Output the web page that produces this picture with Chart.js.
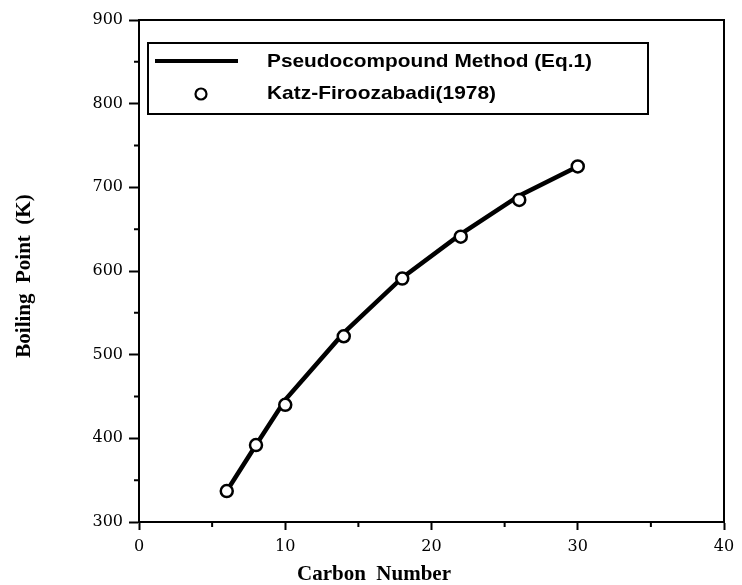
<!DOCTYPE html>
<html>
<head>
<meta charset="utf-8">
<script src="https://cdn.jsdelivr.net/npm/chart.js@4.4.0/dist/chart.umd.min.js"></script>
<style>
  body { margin: 0; background: #fff; }
  canvas { display: block; }
</style>
</head>
<body>
<canvas id="bpChart" width="742" height="585"></canvas>
<script>
// carbon numbers and boiling points (K)
const carbonNumbers = [6, 8, 10, 14, 18, 22, 26, 30];
const methodBp = [337, 392, 446, 526, 592, 644, 690, 725];
const katzBp = [337, 392, 440, 522, 591, 641, 685, 725];

const xMinorTicks = [5, 15, 25, 35];
const yMinorTicks = [350, 450, 550, 650, 750, 850];

const legendLabels = ['Pseudocompound Method (Eq.1)', 'Katz-Firoozabadi(1978)'];
const xTitle = 'Carbon  Number';
const yTitle = 'Boiling  Point  (K)';

// draw text squeezed/stretched to a given width
function fitText(ctx, text, x, y, width) {
    const w = ctx.measureText(text).width;
    ctx.save();
    ctx.translate(x, y);
    ctx.scale(width / w, 1);
    ctx.textAlign = 'left';
    ctx.fillText(text, 0, 0);
    ctx.restore();
}

const decorations = {
    id: 'decorations',
    afterDraw(chart) {
        const ctx = chart.ctx;
        const a = chart.chartArea;
        const xs = chart.scales.x;
        const ys = chart.scales.y;

        ctx.save();
        ctx.strokeStyle = '#000';
        ctx.fillStyle = '#000';

        // frame round the plot
        ctx.lineWidth = 2;
        ctx.strokeRect(a.left, a.top, a.right - a.left, a.bottom - a.top);

        // minor ticks
        ctx.beginPath();
        xMinorTicks.forEach(v => {
            const px = xs.getPixelForValue(v);
            ctx.moveTo(px, a.bottom);
            ctx.lineTo(px, a.bottom + 5);
        });
        yMinorTicks.forEach(v => {
            const py = ys.getPixelForValue(v);
            ctx.moveTo(a.left, py);
            ctx.lineTo(a.left - 5, py);
        });
        ctx.stroke();

        // legend box
        ctx.lineWidth = 2;
        ctx.strokeRect(148, 43, 500, 71);
        ctx.lineWidth = 4;
        ctx.beginPath();
        ctx.moveTo(155, 61);
        ctx.lineTo(238, 61);
        ctx.stroke();
        ctx.lineWidth = 2.2;
        ctx.fillStyle = '#fff';
        ctx.beginPath();
        ctx.arc(201, 94, 5.5, 0, Math.PI * 2);
        ctx.fill();
        ctx.stroke();

        ctx.fillStyle = '#000';
        ctx.textBaseline = 'middle';
        ctx.font = 'bold 19px "Liberation Sans", Arial, sans-serif';
        fitText(ctx, legendLabels[0], 267, 62, 325);
        fitText(ctx, legendLabels[1], 267, 94, 229);

        // axis titles
        ctx.font = 'bold 21px "Liberation Serif", "Times New Roman", serif';
        ctx.textAlign = 'left';
        ctx.fillText(xTitle, 297, 575);

        ctx.save();
        ctx.translate(25, 276);
        ctx.rotate(-Math.PI / 2);
        ctx.textAlign = 'center';
        ctx.fillText(yTitle, 0, 0);
        ctx.restore();

        ctx.restore();
    }
};

const tickFont = { family: '"DejaVu Serif", serif', size: 16 };

const ctx = document.getElementById('bpChart');
new Chart(ctx, {
    type: 'line',
    data: {
        datasets: [
            {
                label: legendLabels[0],
                data: carbonNumbers.map((c, i) => ({ x: c, y: methodBp[i] })),
                borderColor: '#000',
                borderWidth: 4.5,
                pointRadius: 0,
                tension: 0,
                fill: false,
                order: 2
            },
            {
                label: legendLabels[1],
                data: carbonNumbers.map((c, i) => ({ x: c, y: katzBp[i] })),
                showLine: false,
                pointRadius: 6,
                pointBorderWidth: 2.5,
                pointBorderColor: '#000',
                pointBackgroundColor: '#fff',
                order: 1
            }
        ]
    },
    options: {
        responsive: false,
        animation: false,
        devicePixelRatio: 1,
        layout: { padding: { left: 0, top: 20, right: 18, bottom: 0 } },
        plugins: {
            legend: { display: false },
            tooltip: { enabled: false }
        },
        scales: {
            x: {
                type: 'linear',
                min: 0,
                max: 40,
                ticks: {
                    stepSize: 10,
                    color: '#000',
                    padding: 7,
                    font: tickFont
                },
                grid: {
                    drawOnChartArea: false,
                    tickLength: 8,
                    tickWidth: 2,
                    tickColor: '#000'
                },
                border: { color: '#000', width: 2 },
                afterFit(scale) { scale.height = 63; }
            },
            y: {
                min: 300,
                max: 900,
                ticks: {
                    stepSize: 100,
                    color: '#000',
                    padding: 6,
                    font: tickFont
                },
                grid: {
                    drawOnChartArea: false,
                    tickLength: 10,
                    tickWidth: 2,
                    tickColor: '#000'
                },
                border: { color: '#000', width: 2 },
                afterFit(scale) { scale.width = 139; }
            }
        }
    },
    plugins: [decorations]
});
</script>
</body>
</html>
